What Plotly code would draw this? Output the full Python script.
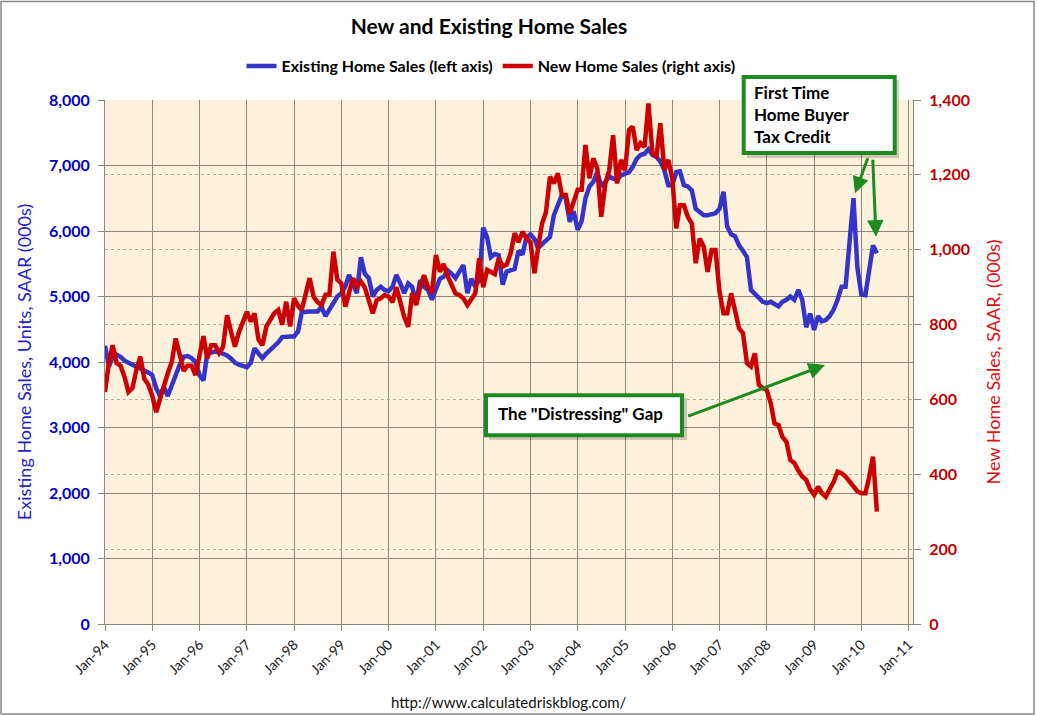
import pandas as pd
import plotly.graph_objects as go

# ---- data (thousands, SAAR), monthly Jan-1994 .. May-2010 ----
existing_sales = [
    4250, 3930, 4080, 4110, 4080, 4020, 3990, 3960, 3930, 3910, 3880, 3840,  # 1994
    3800, 3600, 3480, 3620, 3480, 3650, 3820, 3960, 4080, 4090, 4060, 4000,  # 1995
    3800, 3720, 4130, 4150, 4160, 4150, 4130, 4100, 4050, 3990, 3960, 3940,  # 1996
    3920, 3990, 4210, 4130, 4060, 4130, 4180, 4240, 4300, 4380, 4390, 4390,  # 1997
    4390, 4470, 4760, 4770, 4770, 4770, 4770, 4840, 4700, 4800, 4920, 5000,  # 1998
    5050, 5150, 5330, 5200, 5050, 5600, 5350, 5280, 5000, 5100, 5150, 5100,  # 1999
    5080, 5150, 5330, 5200, 5050, 5200, 5150, 4900, 5250, 5150, 5100, 4950,  # 2000
    5100, 5270, 5300, 5400, 5350, 5280, 5380, 5480, 5050, 5270, 5150, 5250,  # 2001
    6050, 5900, 5600, 5650, 5630, 5180, 5380, 5400, 5420, 5700, 5640, 5900,  # 2002
    5950, 5880, 5740, 5800, 5860, 5910, 6240, 6400, 6550, 6500, 6140, 6300,  # 2003
    6020, 6150, 6500, 6680, 6750, 6900, 6680, 6750, 6830, 6800, 6780, 6850,  # 2004
    6880, 6900, 6980, 7100, 7160, 7180, 7250, 7160, 7130, 7060, 6930, 6700,  # 2005
    6700, 6900, 6910, 6700, 6680, 6620, 6340, 6300, 6240, 6240, 6250, 6270,  # 2006
    6340, 6600, 6070, 5950, 5920, 5780, 5700, 5600, 5100, 5050, 4980, 4920,  # 2007
    4900, 4920, 4880, 4850, 4920, 4950, 5000, 4950, 5100, 4950, 4530, 4740,  # 2008
    4490, 4700, 4620, 4640, 4700, 4800, 4950, 5150, 5150, 5800, 6500, 5450,  # 2009
    5030, 5020, 5380, 5780, 5660,                                            # 2010
]

new_sales = [
    620, 700, 745, 697, 690, 660, 620, 630, 680, 714, 655, 640,              # 1994
    610, 566, 600, 640, 670, 700, 763, 720, 676, 690, 690, 665,              # 1995
    714, 769, 710, 745, 745, 724, 740, 825, 780, 741, 780, 810,              # 1996
    834, 808, 830, 760, 745, 795, 812, 830, 839, 800, 861, 795,              # 1997
    870, 850, 839, 880, 924, 874, 860, 852, 880, 880, 995, 920,              # 1998
    910, 848, 880, 924, 901, 915, 900, 860, 830, 865, 870, 879,              # 1999
    875, 860, 900, 860, 820, 794, 884, 852, 900, 932, 900, 884,              # 2000
    986, 941, 962, 930, 910, 883, 879, 870, 852, 870, 883, 977,              # 2001
    900, 946, 940, 935, 977, 955, 960, 990, 1044, 1020, 1048, 1030,          # 2002
    1021, 937, 1004, 1070, 1100, 1195, 1177, 1204, 1146, 1146, 1097, 1130,   # 2003
    1160, 1160, 1280, 1191, 1244, 1217, 1088, 1175, 1212, 1306, 1177, 1240,  # 2004
    1212, 1320, 1329, 1266, 1285, 1275, 1391, 1257, 1250, 1338, 1213, 1240,  # 2005
    1191, 1057, 1119, 1119, 1088, 1070, 964, 1030, 1008, 941, 999, 999,      # 2006
    888, 830, 830, 883, 830, 790, 777, 697, 688, 723, 639, 630,              # 2007
    625, 590, 536, 531, 500, 487, 438, 430, 410, 394, 385, 360,              # 2008
    345, 367, 350, 340, 360, 380, 407, 403, 394, 380, 367, 355,              # 2009
    349, 349, 390, 447, 300,                                                 # 2010
]

months = pd.date_range("1994-01-01", periods=len(existing_sales), freq="MS")
year_ticks = pd.date_range("1994-01-01", "2011-01-01", freq="YS")
year_tick_labels = [d.strftime("%b-%y") for d in year_ticks]

left_ticks = list(range(0, 8001, 1000))
right_ticks = list(range(0, 1401, 200))

# ---- styling ----
FONT = "Lato"
BLUE = "#3434C8"
RED = "#CC0000"
GREEN = "#1F8A1F"
GRID = "#8F877C"

W, H = 1037, 716
ML, MR, MT, MB = 105, 124, 100, 92
PW, PH = W - ML - MR, H - MT - MB


def px(X):
    return (X - ML) / PW


def py(Y):
    return (H - MB - Y) / PH


fig = go.Figure()
fig.add_trace(go.Scatter(
    x=months, y=existing_sales, name="Existing Home Sales (left axis)",
    mode="lines", line=dict(color=BLUE, width=4.5), yaxis="y"))
fig.add_trace(go.Scatter(
    x=months, y=new_sales, name="New Home Sales (right axis)",
    mode="lines", line=dict(color=RED, width=4.5), yaxis="y2"))

shapes = [
    # outer frame
    dict(type="rect", xref="paper", yref="paper", x0=px(1), x1=px(1034), y0=py(714), y1=py(1.5),
         line=dict(color="#8A8A8A", width=1.5), layer="below"),
    # box shadows
    dict(type="rect", xref="paper", yref="paper", x0=px(747), x1=px(899), y0=py(158), y1=py(80),
         fillcolor="rgba(0,0,0,0.18)", line=dict(width=0), layer="above"),
    dict(type="rect", xref="paper", yref="paper", x0=px(489), x1=px(687), y0=py(440), y1=py(398),
         fillcolor="rgba(0,0,0,0.18)", line=dict(width=0), layer="above"),
    # boxes
    dict(type="rect", xref="paper", yref="paper", x0=px(743.7), x1=px(894.7), y0=py(153), y1=py(77),
         fillcolor="white", line=dict(color=GREEN, width=4), layer="above"),
    dict(type="rect", xref="paper", yref="paper", x0=px(486), x1=px(682), y0=py(435.3), y1=py(395.3),
         fillcolor="white", line=dict(color=GREEN, width=4), layer="above"),
]

annotations = [
    dict(xref="paper", yref="paper", x=px(752), y=py(115), xanchor="left", yanchor="middle",
         text="First Time<br>Home Buyer<br>Tax Credit", showarrow=False, align="left",
         font=dict(family=FONT, size=17, color="black", weight="bold")),
    dict(xref="paper", yref="paper", x=px(496), y=py(413), xanchor="left", yanchor="middle",
         text='The "Distressing" Gap', showarrow=False,
         font=dict(family=FONT, size=17, color="black", weight="bold")),
    # arrows
    dict(xref="paper", yref="paper", x=px(855), y=py(193.3), ax=13.3, ay=-36.6, text="",
         showarrow=True, arrowhead=2, arrowsize=1.1, arrowwidth=3, arrowcolor=GREEN),
    dict(xref="paper", yref="paper", x=px(876), y=py(236.7), ax=-3.3, ay=-78.4, text="",
         showarrow=True, arrowhead=2, arrowsize=1.1, arrowwidth=3, arrowcolor=GREEN),
    dict(xref="paper", yref="paper", x=px(825), y=py(365), ax=-138.3, ay=51.7, text="",
         showarrow=True, arrowhead=2, arrowsize=1.1, arrowwidth=3, arrowcolor=GREEN),
    # footer
    dict(xref="paper", yref="paper", x=px(508), y=py(702), xanchor="center", yanchor="middle",
         text="http://www.calculatedriskblog.com/", showarrow=False,
         font=dict(family=FONT, size=15, color="#111111")),
]

fig.update_layout(
    width=W, height=H,
    margin=dict(l=ML, r=MR, t=MT, b=MB),
    paper_bgcolor="white",
    plot_bgcolor="#FCF1DB",
    font=dict(family=FONT),
    title=dict(text="New and Existing Home Sales", x=px(489), xref="paper", xanchor="center",
               y=1 - 27 / H, yref="container", yanchor="middle",
               font=dict(family=FONT, size=21, color="black", weight="bold")),
    showlegend=True,
    legend=dict(orientation="h", x=px(491), y=py(66), xanchor="center", yanchor="middle",
                xref="paper", yref="paper", bgcolor="rgba(0,0,0,0)",
                font=dict(family=FONT, size=16, color="black", weight="bold"),
                itemwidth=30),
    xaxis=dict(
        type="date", range=["1994-01-01", "2011-02-04"],
        tickvals=year_ticks, ticktext=year_tick_labels, tickangle=-45,
        tickfont=dict(family=FONT, size=14, color="#1A1A1A"),
        showgrid=True, gridcolor=GRID, gridwidth=1,
        showline=True, linecolor=GRID, linewidth=1,
        ticks="outside", ticklen=6, tickcolor=GRID,
        zeroline=False,
    ),
    yaxis=dict(
        range=[0, 8000], tickvals=left_ticks, tickformat=",",
        tickfont=dict(family=FONT, size=16, color="#0000CC", weight="bold"),
        title=dict(text="Existing Home Sales, Units, SAAR (000s)", standoff=12,
                   font=dict(family=FONT, size=18, color="#2323C8")),
        showgrid=True, gridcolor=GRID, gridwidth=1,
        showline=True, linecolor=GRID, linewidth=1,
        ticks="outside", ticklen=6, tickcolor=GRID, ticklabelstandoff=5,
        zeroline=False, automargin=False,
    ),
    yaxis2=dict(
        range=[0, 1400], tickvals=right_ticks, tickformat=",",
        overlaying="y", side="right",
        tickfont=dict(family=FONT, size=16, color="#C00000", weight="bold"),
        title=dict(text="New Home Sales, SAAR, (000s)", standoff=18,
                   font=dict(family=FONT, size=18, color="#E01010")),
        showgrid=True, gridcolor="#B3AA9C", gridwidth=1, griddash="dot",
        showline=True, linecolor=GRID, linewidth=1,
        ticks="outside", ticklen=7, tickcolor=GRID, ticklabelstandoff=5,
        zeroline=False, automargin=False,
    ),
    shapes=shapes,
    annotations=annotations,
)

fig.write_html(
    "out.html",
    config={"displayModeBar": False},
    post_script="document.body.style.margin='0';document.body.style.overflow='hidden';",
)
